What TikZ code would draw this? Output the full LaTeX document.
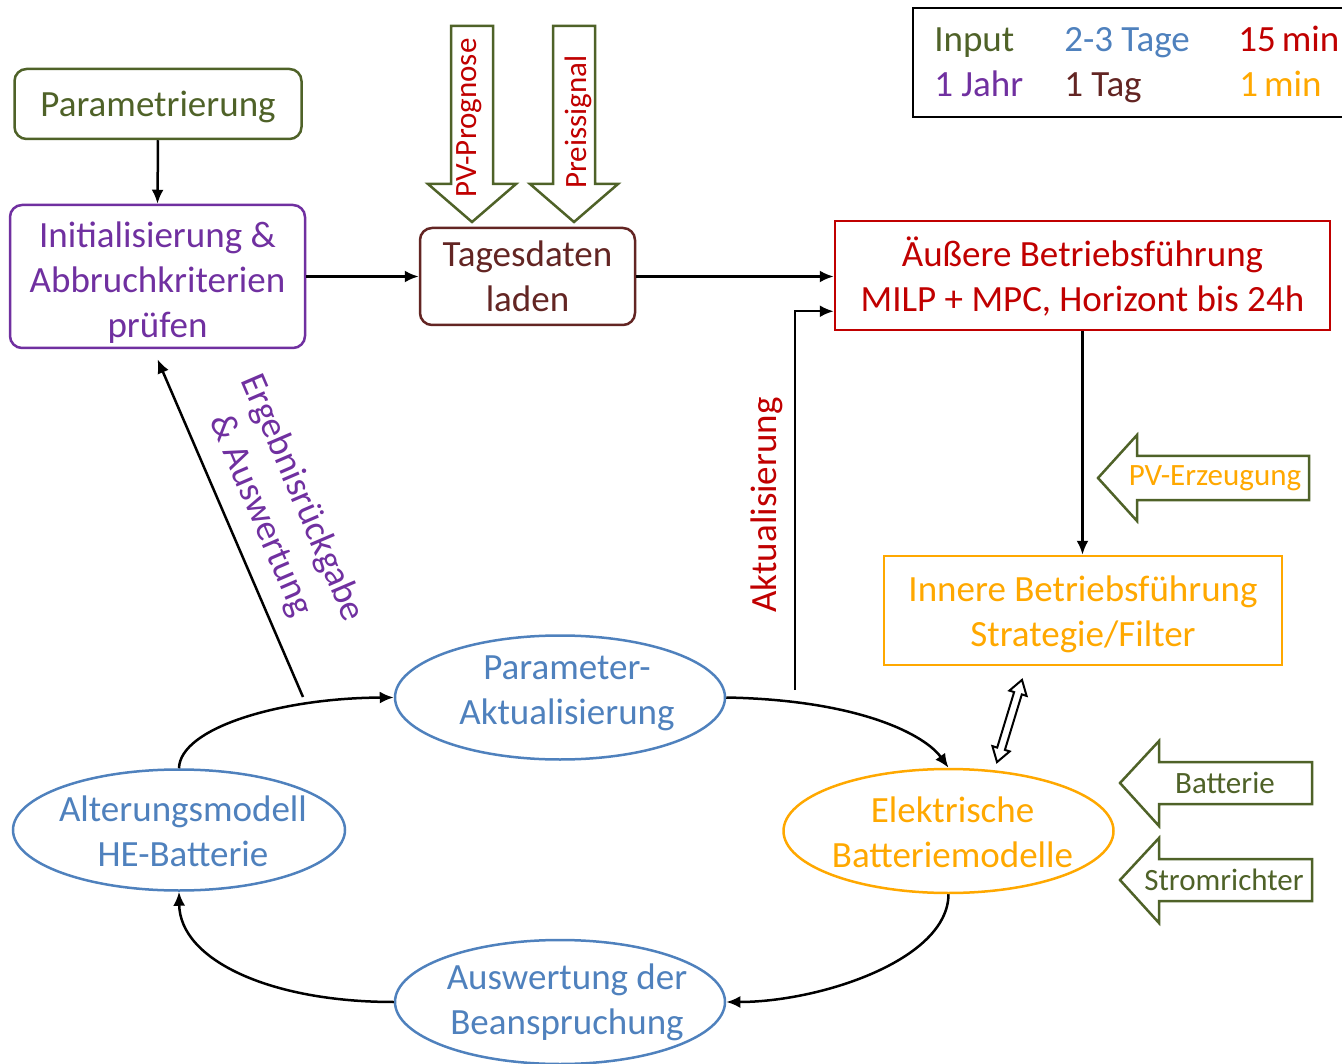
\documentclass[tikz,border=0pt]{standalone}
\usepackage{fontspec}
\setmainfont{Carlito}
\usetikzlibrary{arrows.meta,shapes.geometric,calc}
\definecolor{cgreen}{HTML}{4F6228}
\definecolor{cpurple}{HTML}{7030A0}
\definecolor{cbrown}{HTML}{632523}
\definecolor{cred}{HTML}{C00000}
\definecolor{corange}{HTML}{FFA800}
\definecolor{cblue}{HTML}{4F81BD}
\begin{document}
\begin{tikzpicture}[x=1pt,y=-1pt,line width=2.5pt,
  every node/.style={font=\fontsize{37}{45}\selectfont,align=center,inner sep=0pt},
  smallfont/.style={font=\fontsize{31}{37}\selectfont},
  rbox/.style={draw,rounded corners=12pt},
  sbox/.style={draw},
  ell/.style={draw,ellipse,draw=cblue,minimum width=330,minimum height=124},
  arr/.style={-{Latex[length=14pt,width=12pt]},black},
  blk/.style={draw=cgreen,fill=white,line join=miter},
  leg/.style={anchor=base west}
]
\useasboundingbox (0,0) rectangle (1342,1064);

% legend
\draw[black] (913,8) rectangle (1360,117);
\node[leg,text=cgreen] (l1) at (933,52) {Input};
\node[leg,text=cblue] (l2) at (1063,52) {2-3 Tage};
\node[leg,text=cred] (l3) at (1237,52) {15\hspace{6pt}min};
\node[leg,text=cpurple] (l4) at (933,97) {1 Jahr};
\node[leg,text=cbrown] (l5) at (1063,97) {1 Tag};
\node[leg,text=corange] (l6) at (1238,97) {1\hspace{6pt}min};

% boxes
\node[rbox,draw=cgreen,minimum width=287,minimum height=70] (param) at (158,104) {};
\node[text=cgreen] (paramt) at ($(param)+(0,3)$) {Parametrierung};
\node[rbox,draw=cpurple,minimum width=295,minimum height=143] (init) at (157.5,276.5) {};
\node[text=cpurple] (initt) at ($(init)+(0,6)$) {Initialisierung \&\\Abbruchkriterien\\prüfen};
\node[rbox,draw=cbrown,minimum width=215,minimum height=97] (tag) at (527.5,276.5) {};
\node[text=cbrown] (tagt) at (tag) {Tagesdaten\\laden};
\node[sbox,draw=cred,minimum width=495,minimum height=109] (aus) at (1082.5,275.5) {};
\node[text=cred] (aust) at ($(aus)+(0,1)$) {Äußere Betriebsführung\\MILP + MPC, Horizont bis 24h};
\node[sbox,draw=corange,minimum width=398,minimum height=109] (inn) at (1083,610.5) {};
\node[text=corange] (innt) at ($(inn)+(0,4)$) {Innere Betriebsführung\\Strategie/Filter};

% ellipses
\node[ell] (pa) at (560,697.5) {};
\node[text=cblue] (pat) at ($(pa)+(7,-4)$) {Parameter-\\Aktualisierung};
\node[ell,draw=corange] (el) at (948.5,831) {};
\node[text=corange] (elt) at ($(el)+(4,1)$) {Elektrische\\Batteriemodelle};
\node[ell] (ausw) at (560,1002) {};
\node[text=cblue] (auswt) at ($(ausw)+(7,0)$) {Auswertung der\\Beanspruchung};
\node[ell,minimum width=332,minimum height=121] (alt) at (179,830) {};
\node[text=cblue] (altt) at ($(alt)+(4,1)$) {Alterungsmodell\\HE-Batterie};

% input block arrows (top)
\draw[blk] (451,26) -- (493,26) -- (493,184) -- (516,184) -- (472,222) -- (428,184) -- (451,184) -- cycle;
\node[smallfont,text=cred,rotate=90] (pvp) at (469,118) {PV-Prognose};
\draw[blk] (553,26) -- (595,26) -- (595,184) -- (618,184) -- (574,222) -- (530,184) -- (553,184) -- cycle;
\node[smallfont,text=cred,rotate=90] (preis) at (578,122) {Preissignal};

% input block arrows (right)
\draw[blk] (1309,456) -- (1137,456) -- (1137,435) -- (1098,478) -- (1137,521) -- (1137,500) -- (1309,500) -- cycle;
\node[smallfont,text=corange] (pve) at (1215,478) {PV-Erzeugung};
\draw[blk] (1312,762) -- (1159,762) -- (1159,741) -- (1120,783) -- (1159,826) -- (1159,804) -- (1312,804) -- cycle;
\node[smallfont,text=cgreen] (bat) at (1225,783) {Batterie};
\draw[blk] (1312,859) -- (1159,859) -- (1159,838) -- (1120,880) -- (1159,923) -- (1159,901) -- (1312,901) -- cycle;
\node[smallfont,text=cgreen] (str) at (1224,880) {Stromrichter};

% straight connectors
\draw[arr] (param.south) -- (init.north);
\draw[arr] (init.east) -- (tag.west);
\draw[arr] (tag.east) -- (tag.east -| aus.west);
\draw[arr] (aus.south) -- (aus.south |- inn.north);

\coordinate (akt) at (795,690);
\draw[arr] (akt) |- ($(aus.south west)+(0,-20)$);
\node[text=cred,rotate=90] (aktl) at (767,505) {Aktualisierung};

\coordinate (erg) at (303,697);
\draw[arr] (erg) -- ($(init.south)+(0,10)$);
\node[text=cpurple,rotate=-66.8] (ergl) at (281,507) {Ergebnisrückgabe\\\& Auswertung};

% cycle curves
\draw[arr] (alt.north) .. controls (180,728) and (280,698) .. (pa.west);
\draw[arr] (pa.east) .. controls (860,700) and (925,735) .. (el.north);
\draw[arr] (el.south) .. controls (948,960) and (820,1002) .. (ausw.east);
\draw[arr] (ausw.west) .. controls (270,1002) and (180,960) .. (alt.south);

% double arrow between inner control and battery models
\draw[black,fill=white,line width=2pt,line join=miter]
  (1022.0,679.9) -- (1026.6,695.9) -- (1021.8,694.4) -- (1004.9,749.9) -- (1009.7,751.4)
  -- (997.0,762.1) -- (992.4,746.1) -- (997.2,747.6) -- (1014.1,692.1) -- (1009.4,690.6) -- cycle;
\end{tikzpicture}
\end{document}
